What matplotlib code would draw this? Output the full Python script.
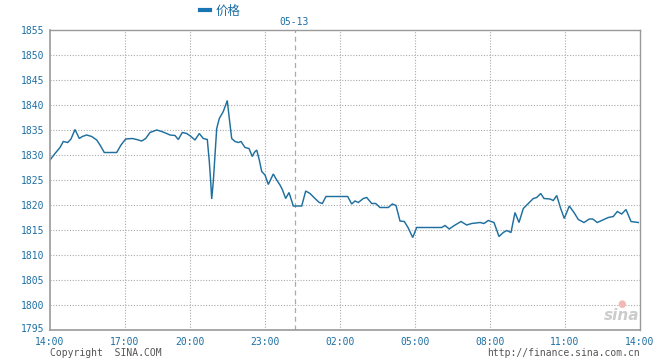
import matplotlib
matplotlib.use("Agg")
import matplotlib.pyplot as plt
import matplotlib.transforms as mtransforms

# x position along the session axis (0 = 14:00 start, 590 = 14:00 next day)
x_pos = [0, 5, 10, 13.3, 17.7, 21, 25, 29.3, 32.3, 36.7, 41.7, 46.7, 50, 54.3, 66.7, 71,
         75.7, 82.3, 86.7, 91.7, 95.7, 100, 106.7, 111.7, 116.7, 120,
         125, 128.3, 132.3, 136.7, 141, 145, 149.3, 153.3, 157.3, 159.3, 160.7, 161.7, 163.3,
         165, 166.7, 169.3, 173.3, 177.3, 179.3, 181.7, 185, 188.3, 191, 195, 199, 202.3,
         204.3, 206.7, 209.3, 211.7, 215, 218.3, 223.3, 226.7, 230, 232.3, 235.7,
         239, 243.3, 251.7, 255.7, 260, 265, 269.3, 272.3, 276, 297.7, 301.7, 305, 308.3,
         313.3, 316.7, 321.7, 325.7, 330, 338.3, 342.3, 346, 350, 354.3, 358,
         362.7, 366.7, 391.7, 395, 399.3, 404.3, 411, 416.7, 421.7, 430, 434, 438.3, 444,
         449, 453.3, 456.7, 461, 465, 469,
         473.3, 478.3, 483.3, 486.7, 490.7, 494, 500, 503.3, 506.7, 510.7, 514.3, 519.3,
         524, 528.3, 534, 539.3, 542.7, 547.3, 552.7, 558.3, 563.3, 567.3, 571.7, 576,
         581, 588.3]
price = [1829.0, 1830.3, 1831.5, 1832.7, 1832.5, 1833.2, 1835.1, 1833.3, 1833.7, 1834.0,
         1833.7, 1833.0, 1832.0, 1830.5, 1830.5, 1832.0, 1833.2, 1833.3, 1833.1, 1832.8,
         1833.3, 1834.5, 1835.0, 1834.7, 1834.3, 1834.0,
         1833.9, 1833.1, 1834.5, 1834.3, 1833.7, 1833.0, 1834.3, 1833.3, 1833.1, 1828.7,
         1824.7, 1821.2, 1824.7, 1830.0, 1835.3, 1837.3, 1838.7, 1840.9, 1837.3, 1833.3,
         1832.7, 1832.5, 1832.7, 1831.5, 1831.3, 1829.7, 1830.5, 1831.0, 1829.0, 1826.7,
         1826.0, 1824.1, 1826.2, 1825.0, 1824.0, 1823.1, 1821.3,
         1822.5, 1819.8, 1819.8, 1822.8, 1822.3, 1821.3, 1820.5, 1820.3, 1821.7, 1821.7,
         1820.2, 1820.8, 1820.5, 1821.3, 1821.5, 1820.3, 1820.3, 1819.5, 1819.5, 1820.2,
         1819.9, 1816.8, 1816.7, 1815.5,
         1813.5, 1815.5, 1815.5, 1815.9, 1815.2, 1815.9, 1816.7, 1816.0, 1816.3, 1816.5,
         1816.3, 1816.9, 1816.5, 1813.7, 1814.5, 1814.9, 1814.5, 1818.5, 1816.5,
         1819.3, 1820.3, 1821.3, 1821.5, 1822.3, 1821.3, 1821.2, 1820.9, 1821.9, 1819.3,
         1817.3, 1819.8, 1818.5, 1817.1, 1816.5, 1817.2, 1817.2, 1816.5, 1817.0, 1817.5,
         1817.7, 1818.7, 1818.2, 1819.1, 1816.7, 1816.5]

x_tick_pos = [0, 75, 140, 215, 290, 365, 440, 515, 590]
x_tick_labels = ["14:00", "17:00", "20:00", "23:00", "02:00", "05:00", "08:00", "11:00", "14:00"]
y_ticks = [1795, 1800, 1805, 1810, 1815, 1820, 1825, 1830, 1835, 1840, 1845, 1850, 1855]
day_break_pos = 245
day_break_label = "05-13"
legend_label = "价格"

W, H = 660, 360
fig = plt.figure(figsize=(6.6, 3.6), dpi=100)
fig.patch.set_facecolor("white")
ax = fig.add_axes([50 / W, 30 / H, 590 / W, 300 / H])

blue_text = "#1d6fa3"
line_color = "#1f6f9f"
grid_color = "#aaaaaa"
mono = "DejaVu Sans Mono"

ax.plot(x_pos, price, color=line_color, linewidth=1.05, solid_joinstyle="miter")

ax.set_xlim(0, 590)
ax.set_ylim(1795, 1855)
ax.set_yticks(y_ticks)
ax.set_yticklabels([str(v) for v in y_ticks], fontfamily=mono, fontsize=7, color=blue_text)
ax.set_xticks(x_tick_pos)
ax.set_xticklabels(x_tick_labels, fontfamily=mono, fontsize=7, color=blue_text)
ax.tick_params(axis="y", length=0, pad=4)
ax.tick_params(axis="x", length=0, pad=5)
# nudge the lowest y label up a little, as in the reference
lift = mtransforms.ScaledTranslation(0, 2 / 100, fig.dpi_scale_trans)
for lab in ax.get_yticklabels():
    if lab.get_text() == "1795":
        lab.set_transform(lab.get_transform() + lift)

for v in y_ticks[1:-1]:
    ax.axhline(v, color=grid_color, linewidth=0.8, linestyle=(0, (1, 1.5)), zorder=0)
for p in x_tick_pos[1:-1]:
    ax.axvline(p, color=grid_color, linewidth=0.8, linestyle=(0, (1, 1.5)), zorder=0)
ax.axvline(day_break_pos, color="#aaaaaa", linewidth=0.9, linestyle=(0, (4, 3)), zorder=0)

for s in ["left", "bottom"]:
    ax.spines[s].set_color("#999999")
    ax.spines[s].set_linewidth(1.2)
for s in ["top", "right"]:
    ax.spines[s].set_color("#999999")
    ax.spines[s].set_linewidth(1.0)

def px(x, y):
    return x / W, 1 - y / H

# legend
fig.lines.append(plt.Line2D([200 / W, 210 / W], [1 - 10 / H, 1 - 10 / H],
                            transform=fig.transFigure, color="#1a75b5", linewidth=3))
fig.text(*px(216, 11), legend_label, fontsize=9, color=blue_text,
         family=["Noto Sans CJK SC", "DejaVu Sans"], va="center", ha="left")
fig.text(*px(294, 22), day_break_label, fontfamily=mono, fontsize=7, color=blue_text,
         va="center", ha="center")

fig.text(*px(50, 353), "Copyright  SINA.COM", fontfamily=mono, fontsize=7, color="#555555",
         va="center", ha="left")
fig.text(*px(640, 353), "http://finance.sina.com.cn", fontfamily=mono, fontsize=7,
         color="#555555", va="center", ha="right")

# watermark
fig.text(*px(622, 316), "sina", fontsize=11, style="italic", fontweight="bold",
         color="#cccccc", va="center", ha="center")
fig.text(*px(622, 304), "●", fontsize=7, color="#f2b8b8", va="center", ha="center")

fig.savefig("out.png", dpi=100)
